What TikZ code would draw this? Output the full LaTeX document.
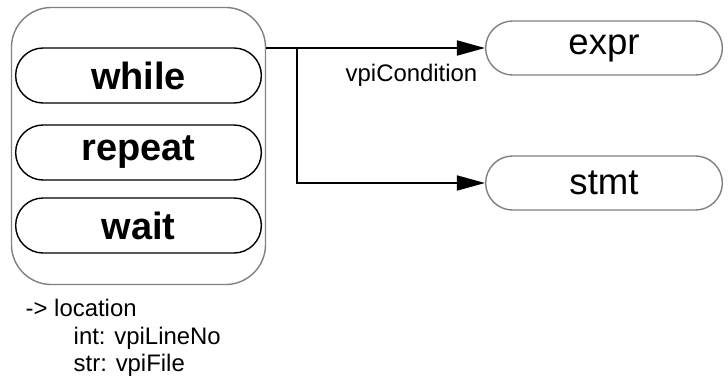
\documentclass[tikz,border=0pt]{standalone}
\usepackage{fontspec}
\setmainfont{Liberation Sans}
\usetikzlibrary{arrows.meta, positioning, shapes.misc, calc}
\definecolor{cgrey}{HTML}{808080}
\tikzset{
  every picture/.style={line width=1pt},
  kind/.style={draw=black, rounded rectangle, minimum width=6.375cm, minimum height=1.375cm, font=\fontsize{27}{32}\selectfont\bfseries},
  obj/.style={draw=cgrey, rounded rectangle, minimum width=6.15cm, minimum height=1.35cm, font=\fontsize{26}{31}\selectfont},
  arrow/.style={-{Triangle[length=0.7cm, width=0.375cm]}, draw=black, line width=1.2pt},
  lbl/.style={font=\fontsize{17}{20}\selectfont, inner sep=0pt},
}
\begin{document}
\begin{tikzpicture}[x=0.025cm, y=-0.025cm]
  \useasboundingbox (0,0) rectangle (728,383);
  \node[draw=cgrey, rounded corners=1cm, minimum width=6.35cm, minimum height=6.925cm] (grp) at (138.5,146) {};
  \foreach \k/\y in {while/75.5, repeat/152.5, wait/225.5} \node[kind] (\k) at (138.5,\y) {\k};
  \node[obj] (expr) at (604,48) {expr};
  \node[obj] (stmt) at (604,183) {stmt};
  \coordinate (src) at (grp.east |- expr.west);
  \coordinate (br) at (297,48);
  \draw[arrow] (src) -- (expr.west);
  \draw[arrow] (br) |- (stmt.west);
  \node[lbl, anchor=base east] (cond) at (478,81) {vpiCondition};
  \node[lbl, anchor=base west] (loc) at (25,316) {-> location};
  \node[lbl, anchor=base west] (lineno) at (73,344) {int: vpiLineNo};
  \node[lbl, anchor=base west] (file) at (73,371) {str: vpiFile};
\end{tikzpicture}
\end{document}
